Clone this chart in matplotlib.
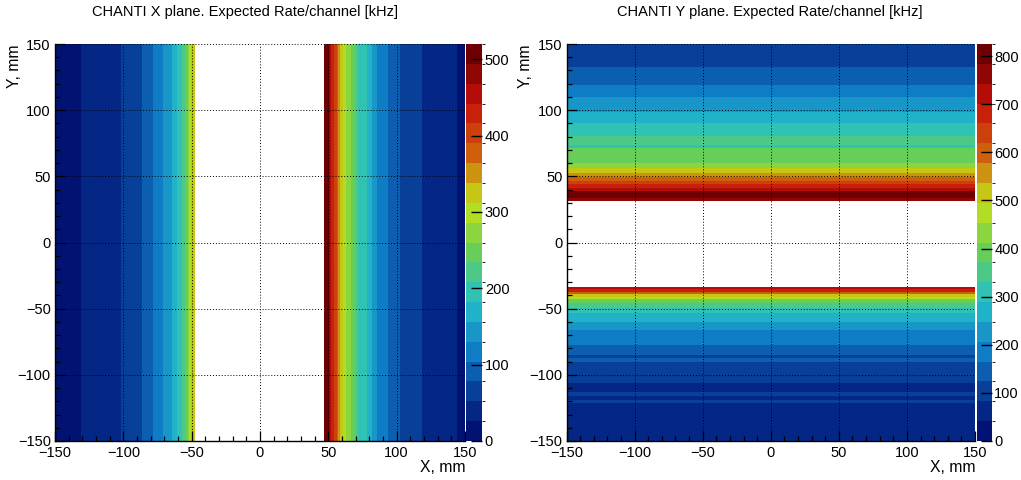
import numpy as np
import matplotlib.pyplot as plt
from matplotlib.colors import LinearSegmentedColormap, ListedColormap, BoundaryNorm

plt.rcParams['font.family'] = ['Liberation Sans', 'DejaVu Sans']

# ROOT kRainBow palette, cut into 20 contour levels
stops = [0.0, 0.125, 0.25, 0.375, 0.5, 0.625, 0.75, 0.875, 1.0]
red = [0, 5, 15, 35, 102, 196, 208, 199, 110]
green = [0, 48, 124, 192, 206, 226, 97, 16, 0]
blue = [99, 142, 198, 201, 90, 22, 13, 8, 2]
n_levels = 20

# X plane: strip edges along X [mm] and rate per strip [kHz] (nan = beam hole)
x_edges = [-150, -131.2, -101.9, -86.6, -78.3, -71.0, -64.4, -60.7, -57.1, -54.9,
           -52.9, -51.6, -50.5, -47.6,
           46.8, 50.3, 51.2, 52.3, 54.1, 56.0, 57.4, 58.9, 60.7, 62.7, 66.6, 69.5,
           71.9, 78.1, 81.7, 85.6, 93.7, 102.4, 118.3, 143.9, 150]
x_rate = [13, 39, 65, 91, 117, 143, 169, 195, 221, 247, 273, 299, 325,
          np.nan,
          507, 481, 455, 429, 403, 377, 351, 325, 299, 273, 247, 221,
          195, 169, 143, 117, 91, 65, 39, 13]
x_zmax = 520

# Y plane: strip edges along Y [mm] and rate per strip [kHz]
y_edges = [-150, -121.1, -119.0, -116.0, -112.8, -106.4, -90.1, -87.5, -85.0, -77.5,
           -66.1, -59.9, -53.5, -49.7, -45.9, -42.9, -41.0, -38.9, -37.2, -35.1, -33.4,
           31.6, 33.4, 39.1, 40.9, 44.2, 46.7, 49.7, 52.7, 56.1, 59.8, 71.6, 73.7,
           80.5, 90.5, 98.8, 110.2, 119.0, 132.4, 150]
y_rate = [62, 103, 62, 103, 62, 103, 144, 103, 144, 186,
          227, 268, 309, 351, 392, 474, 516, 598, 681, 722,
          np.nan,
          763, 804, 722, 681, 639, 598, 557, 516, 433, 392, 309,
          351, 309, 268, 227, 186, 144, 103]
y_zmax = 825

titles = ["CHANTI X plane. Expected Rate/channel [kHz]",
          "CHANTI Y plane. Expected Rate/channel [kHz]"]

base = LinearSegmentedColormap.from_list(
    "kRainBow", [(s, (r / 255, g / 255, b / 255)) for s, r, g, b in zip(stops, red, green, blue)])
cmap = ListedColormap(base((np.arange(n_levels) + 1) / n_levels))
cmap.set_bad("white")

W, H = 1021, 480
fig = plt.figure(figsize=(W / 100, H / 100), dpi=100)
ax1 = fig.add_axes([55 / W, 39 / H, 410 / W, 397 / H])
cax1 = fig.add_axes([466 / W, 39 / H, 16 / W, 397 / H])
ax2 = fig.add_axes([566.5 / W, 39 / H, 408.5 / W, 397 / H])
cax2 = fig.add_axes([976.5 / W, 39 / H, 15 / W, 397 / H])

norm1 = BoundaryNorm(np.linspace(0, x_zmax, n_levels + 1), n_levels)
z1 = np.ma.masked_invalid(np.array(x_rate, dtype=float)[None, :])
m1 = ax1.pcolormesh(x_edges, [-150, 150], z1, cmap=cmap, norm=norm1)

norm2 = BoundaryNorm(np.linspace(0, y_zmax, n_levels + 1), n_levels)
z2 = np.ma.masked_invalid(np.array(y_rate, dtype=float)[:, None])
m2 = ax2.pcolormesh([-150, 150], y_edges, z2, cmap=cmap, norm=norm2)

for ax, cax, mesh, zticks, title, xc in [(ax1, cax1, m1, np.arange(0, 501, 100), titles[0], 245),
                                        (ax2, cax2, m2, np.arange(0, 801, 100), titles[1], 770)]:
    ax.set_xlim(-150, 150)
    ax.set_ylim(-150, 150)
    ax.set_xticks(np.arange(-150, 151, 50))
    ax.set_yticks(np.arange(-150, 151, 50))
    ax.set_xticks(np.arange(-150, 151, 10), minor=True)
    ax.set_yticks(np.arange(-150, 151, 10), minor=True)
    ax.tick_params(which="both", direction="in", top=False, right=False, labelsize=10.5)
    ax.tick_params(which="major", length=7.5, width=0.9)
    ax.tick_params(which="minor", length=3.8, width=0.9)
    ax.tick_params(axis="y", pad=3)
    ax.grid(True, which="major", linestyle=(0, (1, 2)), color="black", linewidth=0.7)
    ax.set_axisbelow(False)
    for side in ["top", "right"]:
        ax.spines[side].set_visible(False)
    for side in ["left", "bottom"]:
        ax.spines[side].set_linewidth(1.0)

    cb = fig.colorbar(mesh, cax=cax, ticks=zticks)
    cb.outline.set_visible(False)
    cax.tick_params(direction="in", length=8, width=1, labelsize=10.5, pad=2)

    left = ax.get_position().x0
    right = ax.get_position().x1
    fig.text(xc / W, 1 - 12 / H, title, ha="center", va="center", fontsize=10.5)
    fig.text(left - 41 / W, 1 - 44 / H, "Y, mm", rotation=90, ha="center", va="top", fontsize=11.3)
    fig.text(right, 1 - 467 / H, "X, mm", ha="right", va="center", fontsize=11.3)

fig.savefig("out.png", dpi=100)
